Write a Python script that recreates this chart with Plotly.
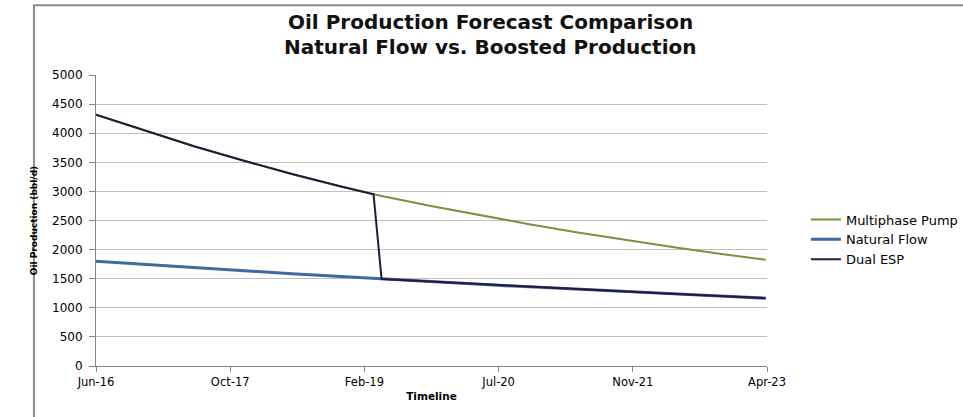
import plotly.graph_objects as go

# Monthly forecast points (bbl/d)
dates = ["2016-06-01", "2016-12-01", "2017-06-01", "2017-12-01", "2018-06-01",
         "2018-12-01", "2019-04-01", "2019-05-01", "2019-11-01", "2020-05-01",
         "2020-11-01", "2021-05-01", "2021-11-01", "2022-05-01", "2022-11-01",
         "2023-04-01"]

multiphase_pump = [4320, 4040, 3775, 3530, 3300, 3085, 2950, 2920, 2750, 2590,
                   2437, 2295, 2160, 2035, 1915, 1825]
natural_flow = [1800, 1744, 1690, 1636, 1585, 1536, 1503, 1495, 1450, 1403,
                1360, 1317, 1276, 1236, 1197, 1165]
dual_esp = [4320, 4040, 3775, 3530, 3300, 3085, 2950, 1495, 1450, 1403,
            1360, 1317, 1276, 1236, 1197, 1165]

tick_dates = ["2016-06-01", "2017-10-14", "2019-02-26", "2020-07-10",
              "2021-11-22", "2023-04-06"]
tick_labels = ["Jun-16", "Oct-17", "Feb-19", "Jul-20", "Nov-21", "Apr-23"]

title_lines = ["Oil Production Forecast Comparison",
               "Natural Flow vs. Boosted Production"]

font_family = "DejaVu Sans, sans-serif"

fig = go.Figure()
fig.add_trace(go.Scatter(x=dates, y=multiphase_pump, mode="lines",
                         name="Multiphase Pump",
                         line=dict(color="#77933C", width=2)))
fig.add_trace(go.Scatter(x=dates, y=natural_flow, mode="lines",
                         name="Natural Flow",
                         line=dict(color="#3F6A9E", width=3)))
fig.add_trace(go.Scatter(x=dates, y=dual_esp, mode="lines",
                         name="Dual ESP",
                         line=dict(color="#26183F", width=2)))

# Two-line chart heading, placed above the plot area
heading = [
    dict(text="<b>%s</b>" % line, xref="paper", yref="paper",
         x=0.588, y=yy, xanchor="center", yanchor="middle", showarrow=False,
         font=dict(size=20, family=font_family, color="#111111"))
    for line, yy in zip(title_lines, [1.182, 1.096])
]

fig.update_layout(
    width=963, height=417,
    margin=dict(l=96, r=196, t=75, b=51, autoexpand=False),
    paper_bgcolor="white", plot_bgcolor="white",
    font=dict(family=font_family, color="#000000"),
    annotations=heading,
    showlegend=True,
    legend=dict(
        x=1.058, y=0.555, xanchor="left", yanchor="top",
        font=dict(size=13, family=font_family),
        tracegroupgap=0, itemwidth=30,
        bgcolor="rgba(0,0,0,0)",
    ),
    shapes=[dict(type="rect", xref="paper", yref="paper",
                 x0=-0.0925, x1=1.3, y0=-0.24, y1=1.24,
                 line=dict(color="#8c8c8c", width=2), layer="below")],
)

fig.update_xaxes(
    type="date",
    range=["2016-06-01", "2023-04-06"],
    tickvals=tick_dates, ticktext=tick_labels,
    ticks="outside", ticklen=5, tickcolor="#868686",
    showline=True, linecolor="#868686", linewidth=1,
    showgrid=False, zeroline=False,
    tickfont=dict(size=11.5, family=font_family),
    title=dict(text="<b>Timeline</b>", font=dict(size=10.5, family=font_family),
               standoff=4),
)
fig.update_yaxes(
    range=[0, 5000], dtick=500, tick0=0,
    ticks="outside", ticklen=6, tickcolor="#868686",
    ticklabelstandoff=4,
    showline=True, linecolor="#868686", linewidth=1,
    showgrid=True, gridcolor="#BFBFBF", gridwidth=1,
    zeroline=False,
    tickfont=dict(size=12, family=font_family),
    title=dict(text="<b>Oil Production (bbl/d)</b>",
               font=dict(size=9, family=font_family), standoff=12),
)

fig.write_html("out.html")
